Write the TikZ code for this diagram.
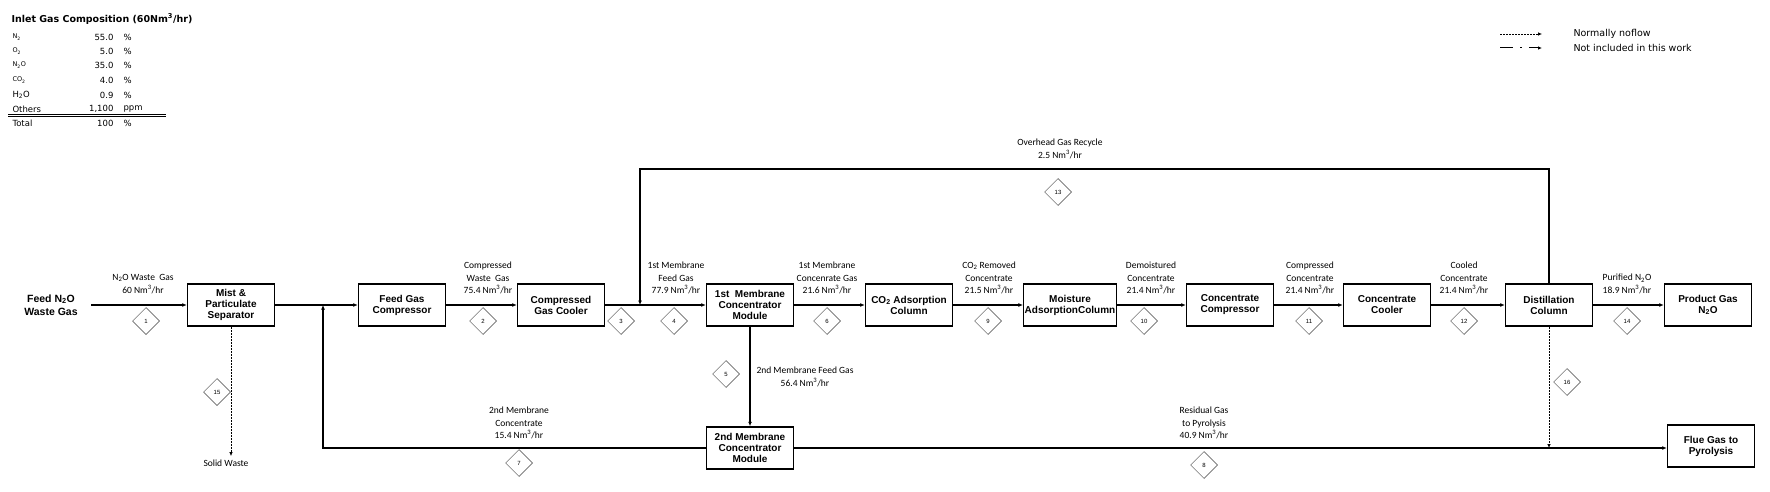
\documentclass[tikz,border=0pt]{standalone}
\usepackage{fontspec}
\setmainfont{Carlito}
\newfontfamily\boxfont{Liberation Sans}
\newfontfamily\headfont{DejaVu Sans}
\usetikzlibrary{arrows.meta,shapes.geometric}
\newcommand{\nmh}{Nm\textsuperscript{3}/hr}

\begin{document}
\begin{tikzpicture}[x=1pt,y=-1pt,
unit/.style={draw,line width=1.5pt,minimum width=87pt,minimum height=42pt,inner sep=1pt,align=center,font=\boxfont\bfseries\fontsize{10}{11}\selectfont},
strm/.style={-{Latex[length=4.5pt,width=4pt]},line width=1.3pt},
noflow/.style={-{Latex[length=4pt,width=3.5pt]},line width=0.7pt,dash pattern=on 2pt off 1pt},
tag/.style={diamond,draw=black!75,line width=0.5pt,minimum size=27pt,inner sep=0pt,font=\boxfont\fontsize{6}{6}\selectfont},
lbl/.style={align=center,font=\fontsize{9.5}{12.5}\selectfont},
tbl/.style={font=\headfont\fontsize{8.5}{10}\selectfont}]
\useasboundingbox (0,0) rectangle (1770,492);

% inlet composition table
\node[anchor=west,font=\headfont\bfseries\fontsize{9.5}{10}\selectfont] (ttl) at (8,19) {Inlet Gas Composition (60Nm\textsuperscript{3}/hr)};
\foreach \nm/\val/\un/\yy in {{\fontsize{6.5}{7}\selectfont N\textsubscript{2}}/55.0/\%/37,{\fontsize{6.5}{7}\selectfont O\textsubscript{2}}/5.0/\%/51,{\fontsize{6.5}{7}\selectfont N\textsubscript{2}O}/35.0/\%/65,{\fontsize{6.5}{7}\selectfont CO\textsubscript{2}}/4.0/\%/80,{H\textsubscript{2}O}/0.9/\%/95,Others/{1,100}/ppm/109,Total/100/\%/123}{
  \node[tbl,anchor=west] at (9,\yy) {\nm};
  \node[tbl,anchor=east] at (117,\yy) {\val};
  \node[tbl,anchor=west] at (120,\yy) {\un};
}
\draw[line width=0.6pt] (8,114) -- (166,114);
\draw[line width=0.6pt] (8,116.5) -- (166,116.5);

% legend
\coordinate (lga) at (1500,34);
\coordinate (lgb) at (1542,34);
\coordinate (lgc) at (1500,48);
\coordinate (lgd) at (1542,48);
\draw[noflow] (lga) -- (lgb);
\draw[-{Latex[length=4pt,width=3.5pt]},line width=1pt,dash pattern=on 13pt off 7pt on 2pt off 7pt] (lgc) -- (lgd);
\node[anchor=west,font=\headfont\fontsize{9.5}{10}\selectfont] (lgt1) at (1570,34) {Normally noflow};
\node[anchor=west,font=\headfont\fontsize{9.5}{10}\selectfont] (lgt2) at (1570,48) {Not included in this work};

% units
\node[align=center,font=\boxfont\bfseries\fontsize{10.5}{13}\selectfont] (feed) at (51,305) {Feed N\textsubscript{2}O\\Waste Gas};
\node[unit] (mist) at (231,305) {Mist \&\\Particulate\\Separator};
\node[unit] (fgc) at (402,305) {Feed Gas\\Compressor};
\node[unit] (cgc) at (561,305) {Compressed\\Gas Cooler};
\node[unit] (mem1) at (750,305) {1st\ \ Membrane\\Concentrator\\Module};
\node[unit] (co2) at (909,305) {CO\textsubscript{2} Adsorption\\Column};
\node[unit] (moist) at (1070,305) {Moisture\\AdsorptionColumn};
\node[unit] (ccomp) at (1230,305) {Concentrate\\Compressor};
\node[unit] (ccool) at (1387,305) {Concentrate\\Cooler};
\node[unit] (dist) at (1549,305) {Distillation\\Column};
\node[unit] (prod) at (1708,305) {Product Gas\\N\textsubscript{2}O};
\node[unit] (mem2) at (750,448) {2nd Membrane\\Concentrator\\Module};
\node[unit] (flue) at (1711,446) {Flue Gas to\\Pyrolysis};
\node[lbl] (solid) at (226,463) {Solid Waste};

\coordinate (jmix) at (323,305);
\coordinate (jrec) at (640,305);
\coordinate (rtop) at (640,169);

% streams
\draw[strm] ([xshift=10pt]feed.east) -- (mist.west);
\draw[strm] (mist.east) -- (fgc.west);
\draw[strm] (fgc.east) -- (cgc.west);
\draw[strm] (cgc.east) -- (mem1.west);
\draw[strm] (mem1.east) -- (co2.west);
\draw[strm] (co2.east) -- (moist.west);
\draw[strm] (moist.east) -- (ccomp.west);
\draw[strm] (ccomp.east) -- (ccool.west);
\draw[strm] (ccool.east) -- (dist.west);
\draw[strm] (dist.east) -- (prod.west);
\draw[strm] (mem1.south) -- (mem2.north);
\draw[strm] (mem2.west) -| (jmix);
\draw[strm] (dist.north) |- (rtop) -- (jrec);
\draw[strm] (mem2.east) -- (mem2.east -| flue.west);
\draw[noflow] (mist.south) -- (mist.south |- solid.north);
\draw[noflow] (dist.south) -- (dist.south |- mem2.east);

% stream labels
\node[lbl] (s1) at (143,284) {N\textsubscript{2}O Waste\ \ Gas\\60 \nmh};
\node[lbl] (s2) at (488,278) {Compressed\\Waste\ \ Gas\\75.4 \nmh};
\node[lbl] (s4) at (676,278) {1st Membrane\\Feed Gas\\77.9 \nmh};
\node[lbl] (s6) at (827,278) {1st Membrane\\Concenrate Gas\\21.6 \nmh};
\node[lbl] (s9) at (989,278) {CO\textsubscript{2} Removed\\Concentrate\\21.5 \nmh};
\node[lbl] (s10) at (1151,278) {Demoistured\\Concentrate\\21.4 \nmh};
\node[lbl] (s11) at (1310,278) {Compressed\\Concentrate\\21.4 \nmh};
\node[lbl] (s12) at (1464,278) {Cooled\\Concentrate\\21.4 \nmh};
\node[lbl] (s14) at (1627,284) {Purified N\textsubscript{2}O\\18.9 \nmh};
\node[lbl] (s5) at (805,377) {2nd Membrane Feed Gas\\56.4 \nmh};
\node[lbl] (s7) at (519,423) {2nd Membrane\\Concentrate\\15.4 \nmh};
\node[lbl] (s8) at (1204,423) {Residual Gas\\to Pyrolysis\\40.9 \nmh};
\node[lbl] (s13) at (1060,149) {Overhead Gas Recycle\\2.5 \nmh};

% stream numbers
\foreach \n/\x/\y in {1/146/321,2/483/321,3/621/321,4/674/321,5/726/374,6/827/321,7/519/463,8/1204/465,9/988/321,10/1144/321,11/1309/321,12/1464/321,13/1058/192,14/1627/321,15/217/392,16/1567/382}
  \node[tag] (d\n) at (\x,\y) {\n};
\end{tikzpicture}
\end{document}
